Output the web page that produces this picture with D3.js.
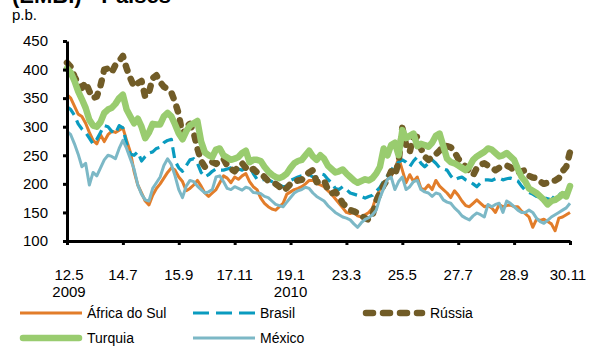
<!DOCTYPE html>
<html>
<head>
<meta charset="utf-8">
<script src="https://cdn.jsdelivr.net/npm/d3@7"></script>
<style>
  html, body { margin: 0; padding: 0; background: #fff; }
  svg { display: block; font-family: "Liberation Sans", Arial, sans-serif; }
</style>
</head>
<body>
<svg id="chart" width="592" height="347"></svg>
<script>
// Sovereign spreads (EMBI), basis points, sampled every third business day
const tickDays = ["12.5", "14.7", "15.9", "17.11", "19.1", "23.3", "25.5", "27.7", "28.9", "30.11"];
const tickYears = ["2009", "", "", "", "2010", "", "", "", "", ""];
const yTicks = [100, 150, 200, 250, 300, 350, 400, 450];

const africaDoSul = [356,350,336,322,318,306,290,276,270,286,274,286,292,290,294,298,276,256,222,198,
  184,170,163,180,192,200,210,220,228,224,212,204,188,192,198,206,196,184,178,184,
  190,202,214,210,202,212,208,214,218,204,195,190,175,166,160,156,154,160,166,182,
  186,190,192,195,200,206,206,201,198,195,188,182,174,166,158,150,148,150,144,142,
  146,150,158,178,190,201,208,214,224,246,224,202,216,204,212,192,190,198,190,206,
  196,190,184,176,188,180,170,162,160,166,172,166,160,162,158,150,164,160,162,163,
  160,160,152,148,142,124,138,136,138,134,130,118,140,142,146,150];

const brasil = [335,330,320,305,296,290,280,270,278,290,302,300,292,288,302,298,270,252,250,256,
  240,248,254,256,262,264,272,276,278,240,228,222,232,242,244,236,220,212,216,222,
  226,224,224,226,228,230,226,224,228,230,218,208,206,208,207,204,202,198,195,196,
  206,209,212,214,215,216,212,212,218,216,208,202,192,190,195,190,184,182,180,178,
  175,178,180,187,194,205,214,224,232,238,242,238,230,240,247,236,230,236,242,236,
  228,226,224,214,207,210,212,207,204,200,195,202,207,207,206,209,210,207,209,210,
  208,205,196,189,185,182,178,177,176,174,172,180,184,178,186,182];

const russia = [412,405,388,375,368,378,362,350,353,372,400,402,395,408,415,424,402,385,370,376,
  380,352,360,385,390,378,370,366,360,343,322,285,300,305,290,262,240,230,232,238,
  235,240,244,232,226,222,230,236,228,222,226,220,218,212,205,203,200,195,188,193,
  200,203,206,207,215,220,224,203,205,206,190,183,186,178,166,160,154,152,149,144,
  140,137,145,170,184,198,207,222,215,238,298,268,256,284,282,262,248,242,246,252,
  258,268,266,264,256,244,236,230,222,215,228,234,236,232,228,224,228,230,232,229,
  224,219,222,224,214,211,210,204,200,202,204,206,210,222,230,256];

const turquia = [402,395,380,362,348,333,312,302,300,308,324,330,333,340,350,356,330,318,306,314,
  300,280,290,305,304,304,318,324,318,304,288,278,292,302,306,310,274,255,250,247,
  260,262,250,246,242,244,247,254,258,238,242,242,240,230,222,216,212,210,213,218,
  228,236,240,242,250,258,248,242,250,244,232,226,220,222,225,218,212,206,202,205,
  208,206,210,218,230,262,250,268,272,250,294,280,284,288,266,270,268,265,272,284,
  288,266,244,238,236,232,228,224,230,242,248,252,256,262,260,254,248,250,254,248,
  242,226,212,204,192,188,184,178,172,164,170,172,176,182,178,196];

const mexico = [292,286,270,252,230,236,198,220,214,228,242,250,248,244,262,276,262,244,226,198,
  182,172,170,192,202,212,232,244,234,214,190,176,196,206,204,196,190,184,186,190,
  212,214,204,192,190,195,192,189,194,192,185,184,183,178,176,170,164,162,160,168,
  176,184,188,190,194,192,184,178,174,170,162,156,150,146,142,140,137,130,124,132,
  138,141,146,154,176,192,208,212,190,204,212,190,195,204,206,190,186,184,178,184,
  182,172,168,166,158,152,144,140,137,144,149,146,142,164,160,164,166,150,170,166,
  160,154,150,150,154,150,140,134,131,136,142,146,150,154,158,166];

const seriesNames = ["África do Sul", "Brasil", "Rússia", "Turquia", "México"];
const seriesValues = [africaDoSul, brasil, russia, turquia, mexico];

// line styles per series
const styles = {
  "África do Sul": { color: "#e27d2a", width: 3, dash: null, cap: "butt" },
  "Brasil":        { color: "#0a9bbf", width: 3.2, dash: "11,6", cap: "butt", legendDash: "16,7" },
  "Rússia":        { color: "#715c27", width: 6.5, dash: "5,9", cap: "round", legendDash: "7,10" },
  "Turquia":       { color: "#99cc6f", width: 6.5, dash: null, cap: "round" },
  "México":        { color: "#7cb8c6", width: 3, dash: null, cap: "butt" }
};

const svg = d3.select("#chart");
const margin = { left: 67, right: 22, top: 41, bottom: 106 };
const W = 592, H = 347;

const nPts = africaDoSul.length;
const x = d3.scaleLinear().domain([0, nPts - 1]).range([margin.left, W - margin.right]);
const y = d3.scaleLinear().domain([100, 450]).range([H - margin.bottom, margin.top]);

// title (upper part lies above the canvas)
svg.append("text")
  .attr("x", 12).attr("y", 3)
  .attr("font-size", 22).attr("font-weight", "bold")
  .attr("fill", "#000")
  .text("(EMBI) - Países");

svg.append("text")
  .attr("x", 12).attr("y", 20)
  .attr("font-size", 15).attr("fill", "#000")
  .text("p.b.");

// lines
const line = d3.line()
  .x((d, i) => x(i))
  .y(d => y(d))
  .curve(d3.curveLinear);

const plot = svg.append("g");
seriesNames.forEach((name, k) => {
  const s = styles[name];
  plot.append("path")
    .datum(seriesValues[k])
    .attr("fill", "none")
    .attr("stroke", s.color)
    .attr("stroke-width", s.width)
    .attr("stroke-linejoin", "round")
    .attr("stroke-linecap", s.cap)
    .attr("stroke-dasharray", s.dash)
    .attr("d", line);
});

// axes
const yAxis = d3.axisLeft(y).tickValues(yTicks).tickSize(4).tickSizeOuter(0).tickPadding(15);
const gy = svg.append("g").attr("transform", `translate(${margin.left},0)`).call(yAxis);
gy.select(".domain").attr("stroke", "#000").attr("stroke-width", 3);
gy.selectAll(".tick line").attr("stroke", "#000").attr("stroke-width", 3);
gy.selectAll(".tick text").attr("font-size", 15).attr("fill", "#000")
  .attr("font-family", "Liberation Sans, Arial, sans-serif");

const tickIdx = tickDays.map((d, i) => i * 15);
const xAxis = d3.axisBottom(x).tickValues(tickIdx).tickSize(4).tickSizeOuter(0).tickFormat("");
const gx = svg.append("g").attr("transform", `translate(0,${H - margin.bottom})`).call(xAxis);
gx.select(".domain").attr("stroke", "#000").attr("stroke-width", 3);
gx.selectAll(".tick line").attr("stroke", "#000").attr("stroke-width", 3);

const xl = svg.append("g").attr("font-size", 15).attr("fill", "#000").attr("text-anchor", "middle");
tickIdx.forEach((t, i) => {
  const tx = x(t) + (i === 0 ? 2 : 0) - (i === tickIdx.length - 1 ? 2 : 0);
  xl.append("text").attr("x", tx).attr("y", 280).text(tickDays[i]);
  if (tickYears[i]) xl.append("text").attr("x", tx).attr("y", 297).text(tickYears[i]);
});

// legend
const legendPos = [
  { x: 20, y: 313 }, { x: 193, y: 313 }, { x: 363, y: 313 },
  { x: 20, y: 338 }, { x: 193, y: 338 }
];
const lg = svg.append("g");
seriesNames.forEach((name, k) => {
  const s = styles[name];
  const p = legendPos[k];
  lg.append("line")
    .attr("x1", p.x + (s.cap === "round" ? 3 : 0)).attr("x2", p.x + 62 - (s.cap === "round" ? 3 : 0))
    .attr("y1", p.y).attr("y2", p.y)
    .attr("stroke", s.color)
    .attr("stroke-width", s.width)
    .attr("stroke-linecap", s.cap)
    .attr("stroke-dasharray", s.legendDash || s.dash);
  lg.append("text")
    .attr("x", p.x + 67).attr("y", p.y + 5)
    .attr("font-size", 14).attr("fill", "#000")
    .text(name);
});
</script>
</body>
</html>
